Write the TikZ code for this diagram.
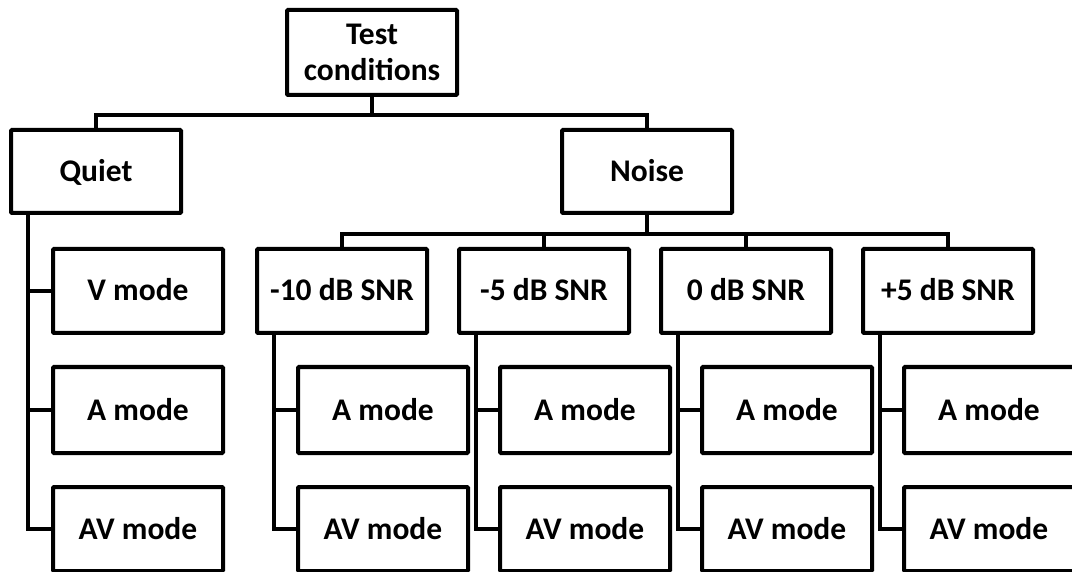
\documentclass[tikz,border=0pt]{standalone}
\usepackage{fontspec}
\setmainfont{Carlito}
\begin{document}
\begin{tikzpicture}[x=1pt,y=-1pt,
  box/.style={draw=black, line width=4pt, rectangle, minimum width=170pt, minimum height=85pt,
    inner sep=0pt, align=center, font=\bfseries\fontsize{31.5}{36}\selectfont, rounded corners=1pt},
  one/.style={box, text height=24pt, text depth=4pt},
  conn/.style={draw=black, line width=4pt, line join=miter}]
\useasboundingbox (0,0) rectangle (1072,572);
\clip (0,0) rectangle (1072,572);
% top levels
\node[box] (test) at (372,52.5) {Test\\conditions};
\node[one, minimum height=83pt] (quiet) at (96,171.5) {Quiet};
\node[one, minimum height=83pt] (noise) at (647,171.5) {Noise};
% quiet children
\node[one, minimum height=84pt] (qv) at (138,291) {V mode};
\node[one, minimum height=86pt] (qa) at (138,410) {A mode};
\node[one, minimum height=84pt] (qav) at (138,529) {AV mode};
% noise levels
\node[one, minimum height=84pt] (l1) at (342,291) {-10 dB SNR};
\node[one, minimum height=84pt] (l2) at (544,291) {-5 dB SNR};
\node[one, minimum height=84pt] (l3) at (746,291) {0 dB SNR};
\node[one, minimum height=84pt] (l4) at (948,291) {+5 dB SNR};
% level children
\foreach \i/\cx in {1/383,2/585,3/787,4/989}{
  \node[one, minimum height=86pt] (a\i) at (\cx,410) {A mode};
  \node[one, minimum height=84pt] (av\i) at (\cx,529) {AV mode};
}
% connectors
\draw[conn] (test.south) -- ++(0,18) -| (quiet.north);
\draw[conn] (test.south) -- ++(0,18) -| (noise.north);
\foreach \i in {1,2,3,4}{
  \draw[conn] (noise.south) -- ++(0,19) -| (l\i.north);
  \draw[conn] ([xshift=-68pt]l\i.south) |- (a\i.west);
  \draw[conn] ([xshift=-68pt]l\i.south) |- (av\i.west);
}
\draw[conn] ([xshift=-68pt]quiet.south) |- (qv.west);
\draw[conn] ([xshift=-68pt]quiet.south) |- (qa.west);
\draw[conn] ([xshift=-68pt]quiet.south) |- (qav.west);
\end{tikzpicture}
\end{document}
